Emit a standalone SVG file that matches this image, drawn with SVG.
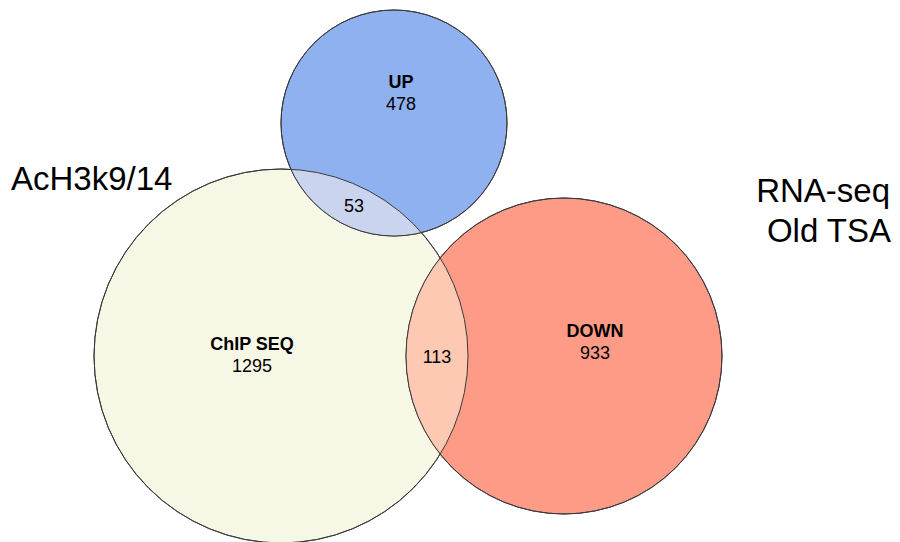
<svg xmlns="http://www.w3.org/2000/svg" width="900" height="542" viewBox="0 0 900 542">
  <defs>
    <style>
      .set { stroke: #3a3a3a; stroke-width: 1; }
      .lbl { font-family: "Liberation Sans", Arial, sans-serif; font-size: 18px; fill: #000; text-anchor: middle; }
      .b { font-weight: bold; }
      .title { font-family: "Liberation Sans", Arial, sans-serif; font-size: 33px; fill: #000; }
    </style>
    <clipPath id="clipChip"><circle cx="281" cy="356" r="187"/></clipPath>
  </defs>
  <rect width="900" height="542" fill="#ffffff"/>

  <!-- set circles -->
  <g id="chip">
    <circle class="set" cx="281" cy="356" r="187" fill="#F7F7E6"/>
  </g>
  <g id="up">
    <circle class="set" cx="394" cy="123" r="113" fill="#8FB1F0"/>
  </g>
  <g id="down">
    <circle class="set" cx="564" cy="356" r="158" fill="#FD9B86"/>
  </g>

  <!-- overlap regions -->
  <g id="overlaps" clip-path="url(#clipChip)">
    <circle cx="394" cy="123" r="113" fill="#CBD4EE"/>
    <circle cx="564" cy="356" r="158" fill="#FDC9B3"/>
  </g>
  <g id="outlines" fill="none">
    <circle class="set" cx="281" cy="356" r="187"/>
    <circle class="set" cx="394" cy="123" r="113"/>
    <circle class="set" cx="564" cy="356" r="158"/>
  </g>

  <!-- counts -->
  <g id="labels">
    <text class="lbl b" x="401" y="88">UP</text>
    <text class="lbl" x="401" y="110">478</text>
    <text class="lbl" x="354" y="212">53</text>
    <text class="lbl b" x="252" y="350">ChIP SEQ</text>
    <text class="lbl" x="252" y="372">1295</text>
    <text class="lbl" x="437" y="363">113</text>
    <text class="lbl b" x="595" y="337">DOWN</text>
    <text class="lbl" x="595" y="359">933</text>
  </g>

  <!-- side titles -->
  <g id="titles">
    <text class="title" x="11" y="190" font-size="34">AcH3k9/14</text>
    <text class="title" x="890" y="202" text-anchor="end">RNA-seq</text>
    <text class="title" x="891" y="242" text-anchor="end">Old TSA</text>
  </g>
</svg>
